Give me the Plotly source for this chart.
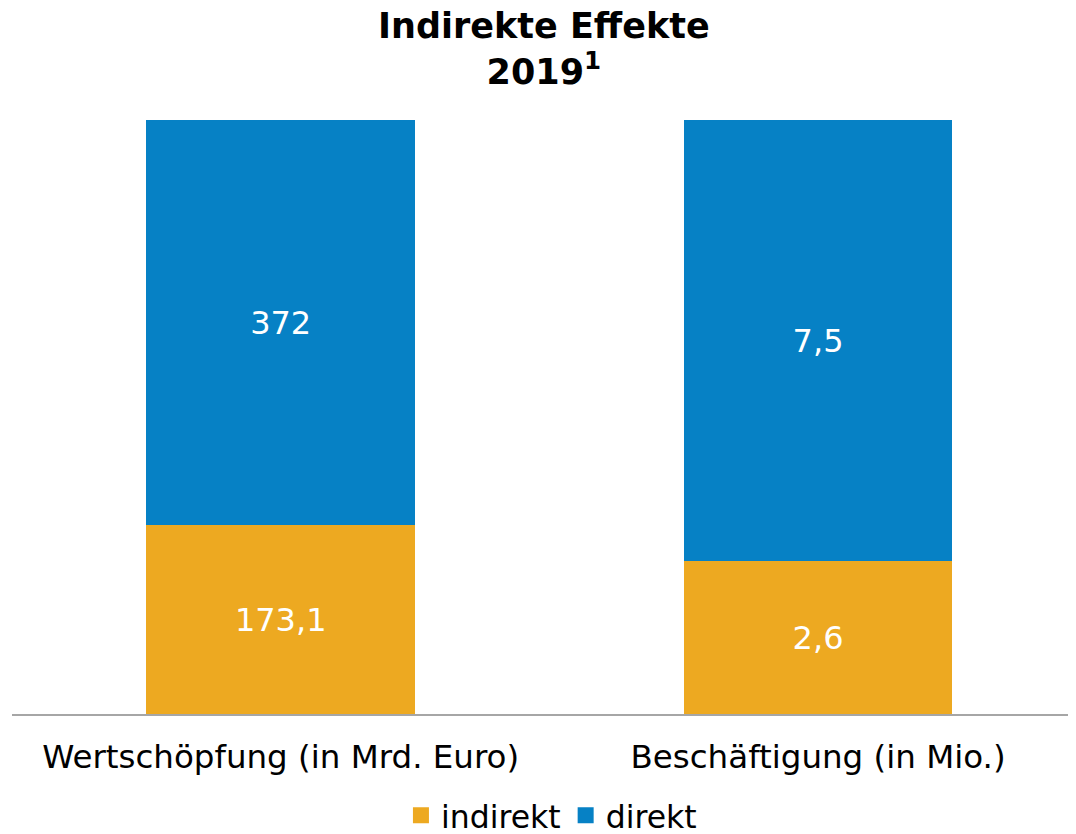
import plotly.graph_objects as go

categories = ["Wertschöpfung (in Mrd. Euro)", "Beschäftigung (in Mio.)"]
series_names = ["indirekt", "direkt"]
indirekt = [173.1, 2.6]
direkt = [372, 7.5]
indirekt_labels = ["173,1", "2,6"]
direkt_labels = ["372", "7,5"]

ORANGE = "#EDA921"
BLUE = "#0681C5"
FONT = "DejaVu Sans, Verdana, sans-serif"

fig = go.Figure()
for name, vals, labels, color in [
    (series_names[0], indirekt, indirekt_labels, ORANGE),
    (series_names[1], direkt, direkt_labels, BLUE),
]:
    fig.add_trace(go.Bar(
        name=name, x=categories, y=vals, marker_color=color,
        marker_line_width=0,
        text=labels, textposition="inside", insidetextanchor="middle",
        textfont=dict(color="white", size=32, family=FONT), width=0.5,
        hoverinfo="skip", showlegend=False,
    ))
    # legend entry with a larger square swatch
    fig.add_trace(go.Scatter(
        name=name, x=[None], y=[None], mode="markers",
        marker=dict(symbol="square", size=19, color=color),
        showlegend=True, hoverinfo="skip",
    ))

fig.update_layout(
    barmode="stack",
    barnorm="fraction",
    width=1068, height=826,
    margin=dict(l=4, r=0, t=112, b=120, autoexpand=False),
    paper_bgcolor="white", plot_bgcolor="white",
    font=dict(family=FONT, color="black"),
    xaxis=dict(
        range=[-0.5, 1.48], showline=True, linecolor="#A6A6A6", linewidth=2,
        ticks="outside", ticklen=13, tickcolor="rgba(0,0,0,0)",
        tickfont=dict(size=32.5, family=FONT, color="black"),
        showgrid=False, automargin=False, fixedrange=True,
    ),
    yaxis=dict(range=[0, 1], visible=False, showgrid=False, fixedrange=True),
    legend=dict(
        orientation="h", x=0.507, xanchor="center", y=-0.125, yanchor="top",
        font=dict(size=31.5, family=FONT, color="black"), traceorder="normal",
        itemwidth=30, tracegroupgap=0,
    ),
    showlegend=True,
    annotations=[
        dict(
            text="<b>Indirekte Effekte<br>2019<sup>1</sup></b>",
            xref="paper", yref="paper", x=0.5, y=1.12,
            xanchor="center", yanchor="middle", showarrow=False,
            font=dict(size=35, family=FONT, color="black"),
        )
    ],
)

fig.write_html("out.html")
